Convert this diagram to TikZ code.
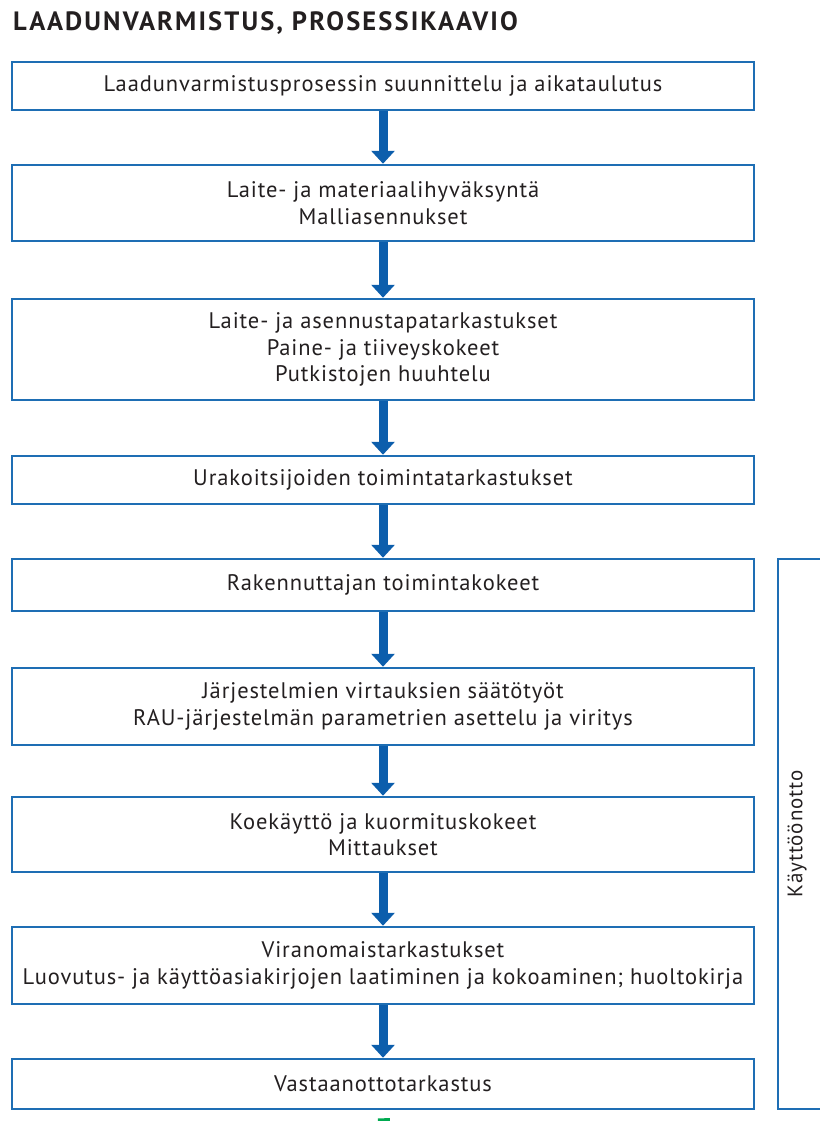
\documentclass[tikz,border=0pt]{standalone}
\usepackage{fontspec}
\setmainfont{PT Sans}
\newfontfamily\boxfont{PT Sans}[LetterSpace=4]
\newfontfamily\titlefont{PT Sans}[LetterSpace=8]
\usetikzlibrary{arrows.meta}

\definecolor{boxblue}{RGB}{30,110,180}
\definecolor{arrowblue}{RGB}{12,94,172}
\definecolor{startgreen}{RGB}{0,170,80}
\definecolor{inktext}{RGB}{35,31,32}

\tikzset{
    stepbox/.style={draw=boxblue, line width=2.5pt, minimum width=742pt,
        align=center, inner sep=0pt, text=inktext,
        font=\boxfont\fontsize{22.5}{26.5}\selectfont},
    flow/.style={draw=arrowblue, line width=9pt,
        -{Triangle[width=23pt, length=13pt]}},
}

\begin{document}
\begin{tikzpicture}[x=1pt, y=-1pt]

    \useasboundingbox (0,0) rectangle (819,1121);

    % ==========================================
    % TITLE
    % ==========================================
    \node[anchor=base west, inner sep=0pt, text=inktext,
          font=\titlefont\fontsize{26.5}{30}\bfseries] (title) at (13,30.5)
          {LAADUNVARMISTUS, PROSESSIKAAVIO};

    % ==========================================
    % PROCESS STEPS
    % ==========================================
    \node[stepbox, minimum height=48pt]  (plan)    at (383,86)
        {Laadunvarmistusprosessin suunnittelu ja aikataulutus};
    \node[stepbox, minimum height=76pt]  (approve) at (383,203)
        {Laite- ja materiaalihyväksyntä\\Malliasennukset};
    \node[stepbox, minimum height=101pt] (inspect) at (383,349.5)
        {Laite- ja asennustapatarkastukset\\Paine- ja tiiveyskokeet\\Putkistojen huuhtelu};
    \node[stepbox, minimum height=48pt]  (contr)   at (383,480)
        {Urakoitsijoiden toimintatarkastukset};
    \node[stepbox, minimum height=52pt]  (owner)   at (383,585)
        {Rakennuttajan toimintakokeet};
    \node[stepbox, minimum height=77pt]  (adjust)  at (383,706.5)
        {Järjestelmien virtauksien säätötyöt\\RAU-järjestelmän parametrien asettelu ja viritys};
    \node[stepbox, minimum height=75pt]  (trial)   at (383,834.5)
        {Koekäyttö ja kuormituskokeet\\Mittaukset};
    \node[stepbox, minimum height=77pt]  (auth)    at (383,965.5)
        {Viranomaistarkastukset\\Luovutus- ja käyttöasiakirjojen laatiminen ja kokoaminen; huoltokirja};
    \node[stepbox, minimum height=50pt]  (accept)  at (383,1084)
        {Vastaanottotarkastus};

    % Side bracket box (right edge runs off the page)
    \node[draw=boxblue, line width=2.5pt, rotate=90, inner sep=0pt,
          minimum width=550pt, minimum height=48pt, text=inktext,
          font=\boxfont\fontsize{21}{24}\selectfont] (commission) at (802,834)
          {\raisebox{14pt}{Käyttöönotto}};

    % ==========================================
    % ARROWS
    % ==========================================
    \draw[flow] (plan)    -- (approve);
    \draw[flow] (approve) -- (inspect);
    \draw[flow] (inspect) -- (contr);
    \draw[flow] (contr)   -- (owner);
    \draw[flow] (owner)   -- (adjust);
    \draw[flow] (adjust)  -- (trial);
    \draw[flow] (trial)   -- (auth);
    \draw[flow] (auth)    -- (accept);

    % Green lead-out below the last step
    \coordinate (handover) at (384,1130);
    \draw[startgreen, line width=12pt, shorten <=8pt] (accept) -- (handover);

\end{tikzpicture}
\end{document}
